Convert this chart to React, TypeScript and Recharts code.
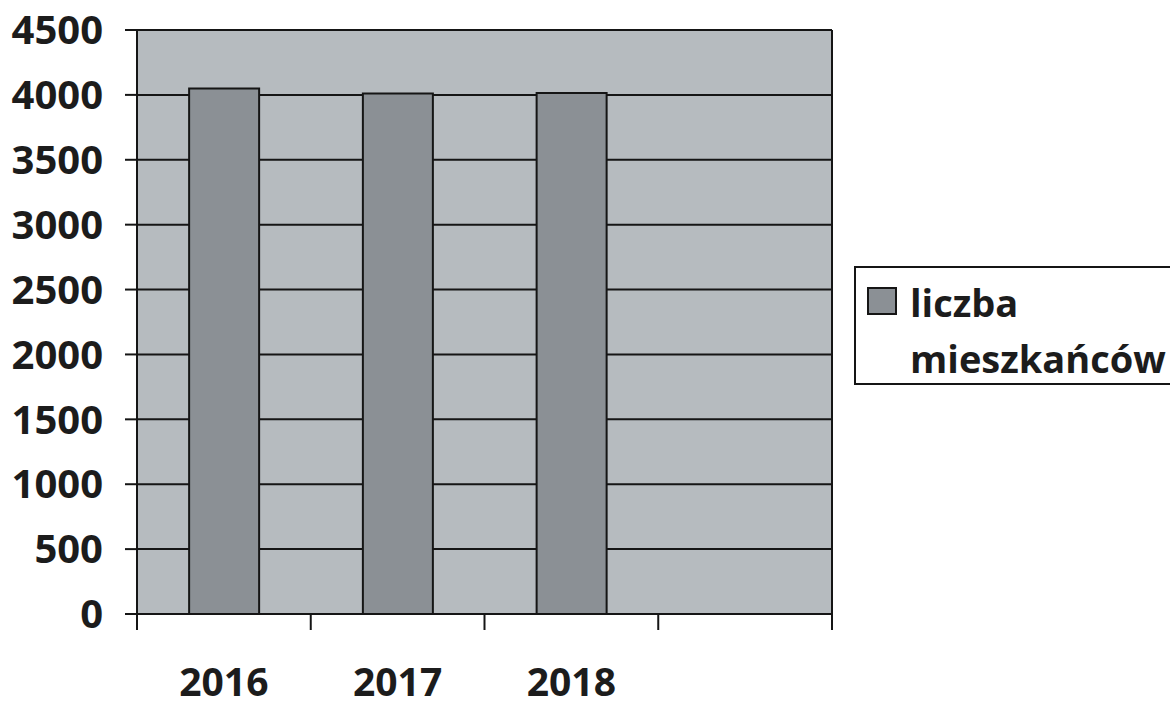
import { Bar, BarChart, CartesianGrid, Legend, ReferenceLine, XAxis, YAxis } from 'recharts';

// Kategorie i wartości
const YEARS = ['2016', '2017', '2018', ''];
const RESIDENTS = [4050, 4010, 4015, null];
const SERIES_NAME = 'liczba mieszkańców';
const Y_TICKS = [0, 500, 1000, 1500, 2000, 2500, 3000, 3500, 4000, 4500];
// granice kategorii (podziałka osi X leży między słupkami)
const EDGE_TICKS = [0, 1, 2, 3, 4];

const COLORS = {
    plot: '#b6bbbf',
    bar: '#8b9095',
    line: '#151515',
    text: '#1c1c1c',
};

const FONT = '"Open Sans", sans-serif';

const data = YEARS.map((year, i) => ({ year, value: RESIDENTS[i] }));

function LegendBox() {
    return (
        <div
            style={{
                width: 330,
                height: 119,
                border: `2px solid ${COLORS.line}`,
                boxSizing: 'border-box',
                position: 'relative',
                background: '#fff',
                fontFamily: FONT,
                fontWeight: 700,
                fontSize: 38,
                lineHeight: '56px',
                color: COLORS.text,
            }}
        >
            <span
                style={{
                    position: 'absolute',
                    left: 11,
                    top: 19,
                    width: 30,
                    height: 28,
                    background: COLORS.bar,
                    border: `2px solid ${COLORS.line}`,
                    boxSizing: 'border-box',
                }}
            />
            <div style={{ position: 'absolute', left: 54, top: 6, width: 260 }}>{SERIES_NAME}</div>
        </div>
    );
}

// tylko kreski podziałki, bez etykiet
const NoLabel = () => <g />;

export default function App() {
    return (
        <div style={{ position: 'absolute', left: 0, top: 0, width: 1170, height: 703, overflow: 'hidden', background: '#fff' }}>
            <BarChart
                width={1170}
                height={703}
                data={data}
                margin={{ top: 30, right: 338, left: 0, bottom: 0 }}
                barCategoryGap="30%"
            >
                <CartesianGrid xAxisId="b" vertical={false} stroke={COLORS.line} strokeWidth={2} fill={COLORS.plot} fillOpacity={1} />
                <XAxis
                    xAxisId="b"
                    dataKey="year"
                    height={88}
                    interval={0}
                    axisLine={false}
                    tickLine={false}
                    tickSize={0}
                    tickMargin={53}
                    tick={{ fontSize: 39, fontWeight: 700, fill: COLORS.text, fontFamily: FONT }}
                />
                <XAxis
                    xAxisId="a"
                    dataKey="value"
                    type="number"
                    domain={[0, 4]}
                    allowDataOverflow
                    ticks={EDGE_TICKS}
                    interval={0}
                    tick={NoLabel}
                    tickSize={16}
                    height={1}
                    axisLine={{ stroke: COLORS.line, strokeWidth: 2 }}
                    tickLine={{ stroke: COLORS.line, strokeWidth: 2 }}
                />
                <YAxis
                    width={137}
                    domain={[0, 4500]}
                    ticks={Y_TICKS}
                    interval={0}
                    tickSize={12}
                    tickMargin={22}
                    axisLine={{ stroke: COLORS.line, strokeWidth: 2 }}
                    tickLine={{ stroke: COLORS.line, strokeWidth: 2 }}
                    tick={{ fontSize: 40, fontWeight: 700, fill: COLORS.text, fontFamily: FONT }}
                />
                <Bar
                    xAxisId="b"
                    dataKey="value"
                    name={SERIES_NAME}
                    fill={COLORS.bar}
                    stroke={COLORS.line}
                    strokeWidth={2}
                    isAnimationActive={false}
                />
                {/* obramowanie obszaru wykresu: lewa oś i prawa krawędź */}
                <ReferenceLine xAxisId="a" x={0} stroke={COLORS.line} strokeWidth={2} />
                <ReferenceLine xAxisId="a" x={4} stroke={COLORS.line} strokeWidth={2} />
                <Legend
                    layout="horizontal"
                    verticalAlign="middle"
                    align="center"
                    content={() => <LegendBox />}
                    wrapperStyle={{ position: 'absolute', left: 854, top: 266, width: 330, margin: 0 }}
                />
            </BarChart>
        </div>
    );
}
